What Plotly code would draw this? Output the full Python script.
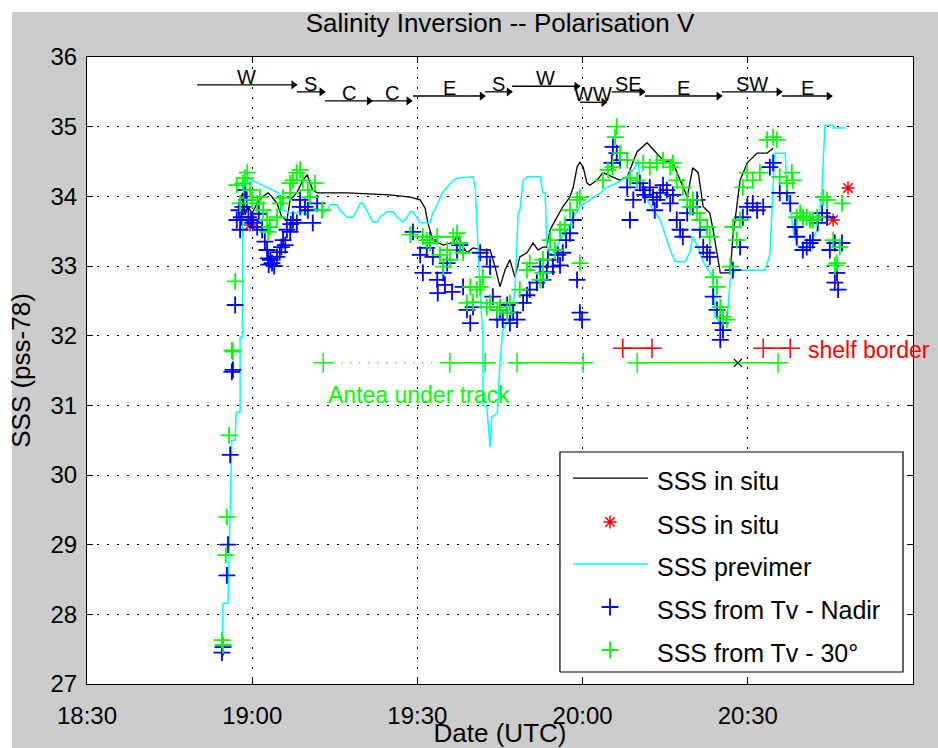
import plotly.graph_objects as go

FONT = "Liberation Sans"

# Time is expressed in minutes after 18:00 UTC
TICK_MIN = [30, 60, 90, 120, 150, 180]
TICK_TXT = ["18:30", "19:00", "19:30", "20:00", "20:30", "21:00"]
SSS_TICKS = [27, 28, 29, 30, 31, 32, 33, 34, 35, 36]

# Ship thermosalinograph record (continuous)
INSITU_T = [57.8, 58.3, 58.7, 59.2, 60.0, 60.9, 61.8, 62.9, 63.6, 64.5, 65.4, 66.3, 66.9, 68.1,
            69.2, 70.0, 70.5, 71.0, 71.8, 77.2, 85.0, 88.7, 90.5, 91.4, 91.9, 92.8, 94.7, 96.5,
            97.2, 98.3, 99.0, 100.1, 101.9, 103.2, 104.1, 105.0, 105.9, 106.8, 107.7, 108.6,
            109.9, 111.0, 111.9, 112.8, 113.5, 114.1, 115.4, 116.4, 117.7, 118.3, 119.0, 119.5,
            120.1, 120.8, 121.3, 122.6, 123.7, 125.5, 126.8, 128.1, 129.9, 131.7, 132.8, 134.6,
            136.4, 137.7, 139.0, 140.0, 141.0, 141.9, 143.1, 143.7, 145.0, 146.8, 147.3, 148.6,
            149.9, 151.7, 153.5, 154.6]
INSITU_S = [33.95, 34.05, 33.73, 33.85, 33.76, 33.90, 33.99, 34.05, 33.99, 33.90, 33.70, 33.66, 33.95, 34.05,
            34.23, 34.31, 34.19, 34.09, 34.05, 34.05, 34.02, 33.99, 33.95, 33.83, 33.62, 33.37, 33.30, 33.34,
            33.42, 33.27, 33.19, 33.26, 33.23, 33.23, 32.99, 32.70, 32.94, 33.09, 32.84, 33.13,
            33.19, 33.33, 33.23, 33.27, 33.27, 33.52, 33.70, 33.85, 33.99, 34.13, 34.42, 34.49,
            34.42, 34.19, 34.16, 34.23, 34.34, 34.28, 34.23, 34.28, 34.64, 34.77, 34.67, 34.52,
            34.48, 34.23, 33.99, 34.41, 34.34, 33.85, 33.76, 33.52, 32.90, 32.90, 33.42, 34.23,
            34.48, 34.62, 34.62, 34.69]

# Discrete in situ samples
INSITU_PT_T = [59.6, 165.5, 168.2]
INSITU_PT_S = [33.59, 33.66, 34.12]

# PREVIMER model salinity along the track
PREVIMER_T = [54.5, 54.7, 55.6, 56.3, 56.9, 57.1, 57.8, 57.8, 58.2, 58.3, 59.2, 64.7, 65.6, 66.9,
              68.1, 68.7, 69.6, 70.5, 71.8, 72.9, 73.6, 74.1, 75.4, 75.9, 77.2, 78.3, 79.0, 79.6,
              80.1, 80.8, 81.4, 81.9, 82.7, 83.2, 84.5, 85.6, 86.3, 87.4, 88.1, 88.7, 89.2, 89.9,
              90.5, 92.3, 92.8, 93.7, 94.5, 95.4, 96.5, 97.2, 100.1, 100.5, 101.0, 101.4, 101.9,
              101.9, 102.6, 103.2, 103.5, 104.5, 105.0, 105.5, 106.8, 107.7, 108.3, 108.6, 109.2,
              109.9, 112.3, 112.8, 113.2, 113.5, 114.1, 115.0, 115.9, 117.2, 118.3, 119.5, 121.3,
              123.2, 124.4, 126.2, 128.1, 129.5, 130.1, 130.4, 131.3, 132.2, 134.1, 135.0, 135.9,
              136.8, 138.6, 139.5, 140.0, 140.8, 141.9, 143.1, 143.7, 144.0, 145.0, 146.2, 146.8,
              147.7, 153.1, 154.0, 154.6, 154.9, 156.8, 157.1, 157.7, 158.2, 158.9, 160.0, 160.7,
              161.7, 162.6, 163.1, 163.5, 163.7, 164.0, 165.5, 165.5, 167.6]
PREVIMER_S = [27.34, 28.16, 28.16, 30.50, 30.50, 30.90, 30.90, 31.98, 31.98, 33.90, 34.26, 34.05, 33.80, 33.76,
              33.76, 33.80, 33.73, 33.80, 33.83, 33.76, 33.80, 33.88, 33.88, 33.80, 33.70, 33.70, 33.80, 33.90,
              33.90, 33.80, 33.70, 33.63, 33.63, 33.70, 33.78, 33.78, 33.70, 33.63, 33.70, 33.78, 33.78, 33.69,
              33.62, 33.62, 33.76, 33.90, 34.05, 34.13, 34.23, 34.26, 34.28, 34.13, 33.23, 32.61, 31.98,
              31.00, 30.98, 30.40, 30.83, 30.89, 31.61, 32.08, 32.23, 32.61, 33.76, 33.80, 34.23,
              34.28, 34.28, 34.05, 34.05, 33.33, 33.16, 33.23, 33.37, 33.52, 33.70, 33.85, 33.95,
              34.05, 34.13, 34.19, 34.28, 34.41, 34.52, 34.23, 34.02, 33.88, 33.66, 33.45, 33.23,
              33.06, 33.06, 33.20, 33.42, 33.30, 33.06, 32.91, 32.83, 32.30, 32.15, 32.20, 32.80,
              32.94, 32.94, 33.16, 34.05, 34.62, 34.62, 34.05, 33.88, 33.52, 33.30, 33.23, 33.26,
              33.37, 33.52, 33.80, 34.16, 34.48, 35.02, 35.02, 34.98, 34.98]

# Salinity retrieved from V-polarised brightness temperature, nadir beam
NADIR = [
    (54.5, 27.45), (54.7, 27.53), (55.4, 28.56), (55.6, 29.00), (56.0, 30.29), (56.3, 31.48),
    (56.5, 31.51), (56.9, 32.44),
    (57.2, 33.66), (57.6, 33.80), (57.8, 33.52), (58.3, 33.85), (58.7, 34.09), (59.0, 33.95),
    (59.3, 33.70), (60.1, 33.62), (60.9, 33.56), (61.2, 33.75), (61.8, 33.52), (62.7, 33.23),
    (62.9, 33.11), (63.3, 33.09), (63.6, 33.04), (64.0, 33.00), (64.5, 33.13), (65.0, 33.20),
    (65.6, 33.37), (66.0, 33.30), (66.3, 33.52), (66.9, 33.49), (67.4, 33.66), (68.1, 33.62),
    (68.7, 33.85), (68.7, 33.95), (69.6, 33.85), (70.1, 33.80), (71.0, 33.62), (71.8, 33.90),
    (58.0, 33.70), (59.8, 33.66), (62.3, 33.35), (63.0, 33.02), (65.3, 33.27), (67.0, 33.60),
    (89.2, 33.49), (90.5, 33.16), (91.0, 32.90), (91.7, 33.26), (92.3, 33.37), (92.8, 33.13),
    (93.6, 32.80), (93.7, 32.61), (94.7, 32.90), (95.0, 32.73), (95.4, 33.04), (96.3, 32.63),
    (97.2, 33.23), (97.7, 33.30), (98.3, 32.70), (99.0, 32.37), (99.6, 32.18), (100.1, 32.41),
    (101.4, 33.19), (102.6, 33.13), (103.2, 32.99), (103.7, 32.56), (104.5, 32.23), (105.0, 32.37),
    (105.5, 32.23), (106.3, 32.44), (106.8, 32.18), (107.4, 32.33), (108.1, 32.23), (109.2, 32.47),
    (109.9, 32.58), (110.4, 32.66), (111.7, 32.76), (112.3, 32.99), (112.8, 32.80),
    (113.5, 32.91), (113.7, 33.09), (114.6, 32.99), (115.5, 33.16), (115.9, 33.01), (116.4, 33.19),
    (117.0, 33.37), (117.7, 33.47), (118.3, 33.66), (119.0, 32.80), (119.5, 32.33), (119.9, 32.23),
    (125.3, 34.48), (125.5, 34.71), (126.2, 34.62), (126.8, 34.52), (128.1, 34.13), (128.6, 33.66),
    (129.2, 33.95), (130.4, 34.19), (131.0, 34.09), (131.3, 34.02), (132.2, 34.13), (132.8, 33.99),
    (133.1, 33.80), (133.5, 33.95), (134.1, 34.05), (134.6, 34.16), (135.3, 34.09), (135.9, 33.90),
    (136.4, 34.02), (137.1, 33.66), (137.7, 33.52), (138.2, 33.42), (139.0, 33.76), (140.0, 33.85),
    (140.8, 33.95), (141.3, 33.52), (141.9, 33.27), (142.6, 33.19), (143.1, 33.13), (143.7, 32.56),
    (144.4, 32.37), (145.0, 32.18), (145.0, 31.94), (145.5, 32.08), (147.3, 32.94), (148.6, 33.27),
    (149.1, 33.70), (149.9, 33.85), (150.9, 33.90), (151.7, 33.80), (152.8, 33.85), (154.0, 34.42),
    (154.6, 34.48), (155.8, 34.05), (157.1, 34.05), (157.7, 33.90), (158.6, 33.56), (158.9, 33.42),
    (160.0, 33.23), (160.7, 33.27), (161.3, 33.33), (161.8, 33.37), (162.7, 33.62), (163.5, 33.76),
    (164.4, 33.70), (164.9, 33.23), (165.8, 33.33), (165.8, 32.76), (166.2, 32.90), (166.4, 32.66),
    (167.1, 33.33),
]

# Same retrieval, 30 degree incidence beam
INC30 = [
    (54.5, 27.63), (54.7, 27.56), (55.2, 28.85), (55.4, 29.40), (55.8, 30.57), (56.3, 31.79),
    (56.5, 31.77), (56.9, 32.78),
    (57.2, 34.16), (57.8, 33.90), (58.3, 34.19), (58.7, 34.26), (59.1, 34.34), (59.6, 34.09),
    (60.0, 33.95), (60.9, 33.90), (61.4, 33.99), (62.0, 33.80), (62.7, 33.66), (62.9, 33.49),
    (63.2, 33.56), (64.5, 33.70), (65.1, 33.90), (65.6, 33.98), (66.9, 34.05), (66.9, 34.19),
    (67.4, 34.23), (68.1, 34.34), (68.7, 34.38), (69.2, 34.23), (70.1, 34.09), (70.5, 33.99),
    (71.4, 34.19), (72.7, 33.80),
    (88.7, 33.45), (91.0, 33.42), (91.7, 33.37), (92.3, 33.33), (93.6, 33.42), (94.1, 33.16),
    (94.7, 32.99), (95.4, 33.23), (95.9, 33.09), (96.5, 33.42), (97.2, 33.47), (97.7, 33.33),
    (98.3, 33.19), (99.0, 32.47), (99.6, 32.70), (100.1, 32.48), (100.8, 32.66), (101.4, 32.70),
    (101.9, 32.84), (102.6, 32.41), (103.2, 32.47), (104.5, 32.37), (105.0, 32.41), (106.3, 32.33),
    (106.8, 32.47), (108.6, 32.66), (109.9, 32.94), (110.4, 33.04), (112.3, 32.80), (112.8, 33.09),
    (112.8, 32.90), (114.1, 33.37), (115.0, 33.23), (115.9, 33.52), (116.8, 33.59), (117.7, 33.80),
    (119.0, 33.95), (119.5, 33.99), (119.5, 33.04),
    (123.7, 34.23), (124.6, 34.38), (125.5, 34.42), (125.9, 34.85), (126.2, 35.00), (126.8, 34.62),
    (128.1, 34.52), (128.6, 34.26), (129.9, 34.23), (131.0, 34.48), (132.2, 34.42), (133.5, 34.48),
    (134.6, 34.52), (135.9, 34.42), (136.4, 34.48), (137.1, 34.23), (138.2, 34.13), (139.0, 33.95),
    (139.5, 33.85), (140.0, 33.95), (140.8, 33.76), (141.3, 33.66), (142.6, 33.56), (143.1, 33.42),
    (143.7, 32.84), (144.4, 32.70), (145.0, 32.41), (145.5, 32.27), (146.2, 32.23), (146.8, 32.99),
    (147.3, 33.56), (148.0, 33.37), (148.6, 33.66), (149.1, 34.13), (149.9, 34.34), (150.9, 34.23),
    (152.2, 34.34), (153.5, 34.81), (154.6, 34.85), (155.3, 34.81), (155.8, 34.28), (157.1, 34.19),
    (158.0, 34.34), (158.2, 34.23), (158.9, 33.70), (159.5, 33.76), (160.0, 33.70), (160.7, 33.70),
    (161.3, 33.66), (161.8, 33.66), (162.6, 33.70), (163.7, 33.99), (164.4, 33.95), (165.5, 33.37),
    (165.8, 33.01), (166.2, 33.04), (166.7, 33.27), (167.1, 33.90),
]

# Wind direction legs along the flight
WIND_LABEL = ["W", "S", "C", "C", "E", "S", "W", "WW", "SE", "E", "SW", "E"]
WIND_START = [50.0, 68.1, 73.2, 81.8, 89.2, 102.3, 107.2, 119.5, 125.3, 131.3, 145.3, 156.2]
WIND_END = [68.1, 73.2, 81.8, 89.0, 102.3, 107.2, 119.5, 124.4, 131.3, 145.3, 156.2, 165.3]
WIND_LEVEL = [35.60, 35.50, 35.37, 35.37, 35.44, 35.50, 35.58, 35.35, 35.50, 35.44, 35.50, 35.44]

# Periods when the Antea vessel was under the aircraft track
ANTEA_LEVEL = 31.61
ANTEA_SOLID = [(95.9, 102.3), (108.1, 120.1), (129.9, 155.5)]
ANTEA_DOTTED = [(72.9, 95.9), (102.3, 108.1)]
ANTEA_CROSS = 148.2

# Crossings of the continental shelf border
SHELF_LEVEL = 31.82
SHELF_SEGS = [(127.3, 132.6), (152.8, 157.7)]

BLUE = "#0000ff"
GREEN = "#00ff00"
CYAN = "#00ffff"
RED = "#ff0000"


def segments(pairs, level):
    xs, ys = [], []
    for a, b in pairs:
        xs += [a, b, None]
        ys += [level, level, None]
    return xs, ys


fig = go.Figure()

fig.add_trace(go.Scatter(x=INSITU_T, y=INSITU_S, mode="lines",
                         line=dict(color="black", width=1.3), showlegend=False))
fig.add_trace(go.Scatter(x=INSITU_PT_T, y=INSITU_PT_S, mode="markers",
                         marker=dict(symbol="asterisk", size=11,
                                     line=dict(color=RED, width=1.5)),
                         showlegend=False))
fig.add_trace(go.Scatter(x=PREVIMER_T, y=PREVIMER_S, mode="lines",
                         line=dict(color=CYAN, width=1.5), showlegend=False))
fig.add_trace(go.Scatter(x=[p[0] for p in NADIR], y=[p[1] for p in NADIR], mode="markers",
                         marker=dict(symbol="cross-thin", size=12,
                                     line=dict(color=BLUE, width=1.8)),
                         showlegend=False))
fig.add_trace(go.Scatter(x=[p[0] for p in INC30], y=[p[1] for p in INC30], mode="markers",
                         marker=dict(symbol="cross-thin", size=12,
                                     line=dict(color=GREEN, width=1.8)),
                         showlegend=False))

# Antea under-track line
sx, sy = segments(ANTEA_SOLID, ANTEA_LEVEL)
fig.add_trace(go.Scatter(x=sx, y=sy, mode="lines", line=dict(color=GREEN, width=1.5),
                         showlegend=False))
dx, dy = segments(ANTEA_DOTTED, ANTEA_LEVEL)
fig.add_trace(go.Scatter(x=dx, y=dy, mode="lines",
                         line=dict(color=GREEN, width=1.5, dash="1px,8px"),
                         showlegend=False))
antea_marks = sorted({v for seg in ANTEA_SOLID + ANTEA_DOTTED for v in seg})
fig.add_trace(go.Scatter(x=antea_marks, y=[ANTEA_LEVEL] * len(antea_marks), mode="markers",
                         marker=dict(symbol="cross-thin", size=14,
                                     line=dict(color=GREEN, width=1.5)),
                         showlegend=False))
fig.add_trace(go.Scatter(x=[ANTEA_CROSS], y=[ANTEA_LEVEL], mode="markers",
                         marker=dict(symbol="x-thin", size=8,
                                     line=dict(color="black", width=1.3)),
                         showlegend=False))

# Shelf border crossings
hx, hy = segments(SHELF_SEGS, SHELF_LEVEL)
fig.add_trace(go.Scatter(x=hx, y=hy, mode="lines+markers", line=dict(color=RED, width=1.5),
                         marker=dict(symbol="cross-thin", size=14,
                                     line=dict(color=RED, width=1.5)),
                         showlegend=False))

# Wind direction arrows
wx, wy = [], []
for a, b, lv in zip(WIND_START, WIND_END, WIND_LEVEL):
    wx += [a, b, None]
    wy += [lv, lv, None]
fig.add_trace(go.Scatter(x=wx, y=wy, mode="lines", line=dict(color="black", width=1.3),
                         showlegend=False))
fig.add_trace(go.Scatter(x=[b - 0.6 for b in WIND_END], y=WIND_LEVEL, mode="markers",
                         marker=dict(symbol="triangle-right", size=8, color="black"),
                         showlegend=False))

annotations = []
for lab, a, b, lv in zip(WIND_LABEL, WIND_START, WIND_END, WIND_LEVEL):
    annotations.append(dict(x=(a + b) / 2, y=lv, text=lab, showarrow=False,
                            xanchor="center", yanchor="bottom", yshift=-5,
                            font=dict(family=FONT, size=20, color="black")))

annotations.append(dict(x=73.4, y=31.15, text="Antea under track", showarrow=False,
                        xanchor="left", yanchor="middle",
                        font=dict(family=FONT, size=23, color=GREEN)))
annotations.append(dict(x=160.6, y=31.79, text="shelf border", showarrow=False,
                        xanchor="left", yanchor="middle",
                        font=dict(family=FONT, size=23, color=RED)))

# Legend box drawn on an overlay axis in plot-fraction units
LEG_X0, LEG_X1, LEG_Y0, LEG_Y1 = 0.5726, 0.9879, 0.0191, 0.3700
LEG_LINE_X0, LEG_LINE_X1, LEG_MARK_X, LEG_TEXT_X = 0.5884, 0.6792, 0.6332, 0.6877
LEG_ROWS = [0.3285, 0.2584, 0.1914, 0.1228, 0.0542]
LEG_NAMES = ["SSS in situ", "SSS in situ", "SSS previmer",
             "SSS from Tv - Nadir", "SSS from Tv - 30°"]

fig.add_trace(go.Scatter(x=[LEG_X0, LEG_X1, LEG_X1, LEG_X0, LEG_X0],
                         y=[LEG_Y0, LEG_Y0, LEG_Y1, LEG_Y1, LEG_Y0],
                         xaxis="x2", yaxis="y2", mode="lines", fill="toself",
                         fillcolor="white", line=dict(color="black", width=1.2),
                         showlegend=False, hoverinfo="skip"))
fig.add_trace(go.Scatter(x=[LEG_LINE_X0, LEG_LINE_X1], y=[LEG_ROWS[0]] * 2,
                         xaxis="x2", yaxis="y2", mode="lines",
                         line=dict(color="black", width=1.3), name=LEG_NAMES[0],
                         showlegend=False))
fig.add_trace(go.Scatter(x=[LEG_MARK_X], y=[LEG_ROWS[1]], xaxis="x2", yaxis="y2",
                         mode="markers", name=LEG_NAMES[1],
                         marker=dict(symbol="asterisk", size=11, line=dict(color=RED, width=1.5)),
                         showlegend=False))
fig.add_trace(go.Scatter(x=[LEG_LINE_X0, LEG_LINE_X1], y=[LEG_ROWS[2]] * 2,
                         xaxis="x2", yaxis="y2", mode="lines", name=LEG_NAMES[2],
                         line=dict(color=CYAN, width=1.5), showlegend=False))
fig.add_trace(go.Scatter(x=[LEG_MARK_X], y=[LEG_ROWS[3]], xaxis="x2", yaxis="y2",
                         mode="markers", name=LEG_NAMES[3],
                         marker=dict(symbol="cross-thin", size=12, line=dict(color=BLUE, width=1.8)),
                         showlegend=False))
fig.add_trace(go.Scatter(x=[LEG_MARK_X], y=[LEG_ROWS[4]], xaxis="x2", yaxis="y2",
                         mode="markers", name=LEG_NAMES[4],
                         marker=dict(symbol="cross-thin", size=12, line=dict(color=GREEN, width=1.8)),
                         showlegend=False))
for name, ry in zip(LEG_NAMES, LEG_ROWS):
    annotations.append(dict(x=LEG_TEXT_X, y=ry, xref="x2", yref="y2", text=name,
                            showarrow=False, xanchor="left", yanchor="middle", yshift=-3,
                            font=dict(family=FONT, size=25, color="black")))

# White strips along the top and left borders of the figure
shapes = [
    dict(type="rect", xref="paper", yref="paper", x0=-0.11, x1=-0.0908, y0=-0.11, y1=1.10,
         fillcolor="white", line=dict(width=0), layer="below"),
    dict(type="rect", xref="paper", yref="paper", x0=-0.11, x1=1.05, y0=1.0718, y1=1.10,
         fillcolor="white", line=dict(width=0), layer="below"),
]

axis_common = dict(showline=True, linecolor="black", linewidth=1, mirror="ticks",
                   ticks="inside", ticklen=6, tickcolor="black", tickwidth=1,
                   showgrid=True, gridcolor="black", gridwidth=1, griddash="2px,8px",
                   zeroline=False, automargin=False,
                   tickfont=dict(family=FONT, size=24, color="black"))

fig.update_layout(
    width=938, height=748,
    margin=dict(l=87, r=25, t=57, b=64),
    paper_bgcolor="#cccccc", plot_bgcolor="white",
    showlegend=False,
    title=dict(text="Salinity Inversion -- Polarisation V", x=0.5, xref="paper",
               xanchor="center", y=1 - 23 / 748, yref="container", yanchor="middle",
               font=dict(family=FONT, size=26, color="black")),
    xaxis=dict(range=[30, 180], tickvals=TICK_MIN, ticktext=TICK_TXT,
               ticklabelstandoff=10,
               title=dict(text="Date (UTC)", standoff=20,
                          font=dict(family=FONT, size=26, color="black")),
               **axis_common),
    yaxis=dict(range=[27, 36], tickvals=SSS_TICKS, ticktext=[str(v) for v in SSS_TICKS],
               ticklabelstandoff=4,
               title=dict(text="SSS (pss-78)", standoff=12,
                          font=dict(family=FONT, size=26, color="black")),
               **axis_common),
    xaxis2=dict(overlaying="x", range=[0, 1], visible=False, anchor="y2"),
    yaxis2=dict(overlaying="y", range=[0, 1], visible=False, anchor="x2"),
    annotations=annotations,
    shapes=shapes,
)

fig.write_html("out.html")
